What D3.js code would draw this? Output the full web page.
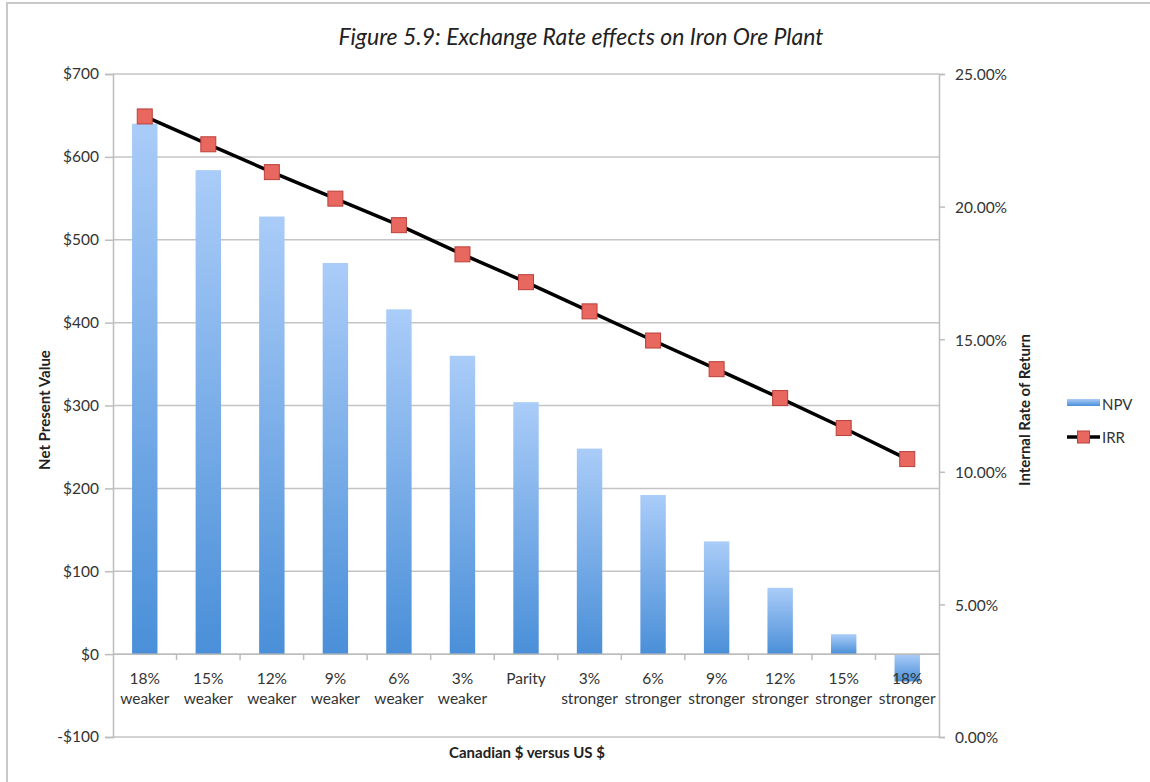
<!DOCTYPE html>
<html>
<head>
<meta charset="utf-8">
<script src="https://cdn.jsdelivr.net/npm/d3@7"></script>
<style>
  body { margin: 0; background: #fff; overflow: hidden; }
  svg { display: block; font-family: Lato, "Open Sans", sans-serif; }
</style>
</head>
<body>
<script>
// chart data
const categories = [
    ["18%", "weaker"], ["15%", "weaker"], ["12%", "weaker"], ["9%", "weaker"],
    ["6%", "weaker"], ["3%", "weaker"], ["Parity", ""], ["3%", "stronger"],
    ["6%", "stronger"], ["9%", "stronger"], ["12%", "stronger"], ["15%", "stronger"],
    ["18%", "stronger"]
];
const npvValues = [640, 584, 528, 472, 416, 360, 304, 248, 192, 136, 80, 24, -33];
const irrValues = [23.4, 22.35, 21.3, 20.3, 19.3, 18.2, 17.15, 16.05, 14.95, 13.87, 12.78, 11.65, 10.48];
const npvTicks = [-100, 0, 100, 200, 300, 400, 500, 600, 700];
const irrTicks = [0, 5, 10, 15, 20, 25];

const width = 1150;
const height = 782;
const margin = { top: 74, right: 211, bottom: 45, left: 113 };
const innerWidth = width - margin.left - margin.right;
const innerHeight = height - margin.top - margin.bottom;

const svg = d3.select("body").append("svg")
    .attr("width", width)
    .attr("height", height);

// outer frame (only top and left edges are visible)
svg.append("path")
    .attr("d", `M7,${height}V3H${width}`)
    .attr("fill", "none")
    .attr("stroke", "#c8c8c8")
    .attr("stroke-width", 2);

const defs = svg.append("defs");
const grad = defs.append("linearGradient")
    .attr("id", "barGrad")
    .attr("x1", 0).attr("y1", 0).attr("x2", 0).attr("y2", 1);
grad.append("stop").attr("offset", "0%").attr("stop-color", "#aaccf8");
grad.append("stop").attr("offset", "100%").attr("stop-color", "#4a8fd8");

const g = svg.append("g")
    .attr("transform", `translate(${margin.left},${margin.top})`);

const idx = categories.map((d, i) => i);
const xScale = d3.scaleBand()
    .domain(idx)
    .range([0, innerWidth])
    .paddingInner(0.6)
    .paddingOuter(0.3);
const bandStep = innerWidth / categories.length;

const yScale = d3.scaleLinear()
    .domain([-100, 700])
    .range([innerHeight, 0]);

const y2Scale = d3.scaleLinear()
    .domain([0, 25])
    .range([innerHeight, 0]);

// gridlines
g.append("g")
    .selectAll("line")
    .data(npvTicks)
    .join("line")
    .attr("x1", 0)
    .attr("x2", innerWidth)
    .attr("y1", d => yScale(d))
    .attr("y2", d => yScale(d))
    .attr("stroke", "#c4c4c4")
    .attr("stroke-width", 1.5);

// left axis
const yAxis = d3.axisLeft(yScale)
    .tickValues(npvTicks)
    .tickSize(8)
    .tickPadding(6)
    .tickFormat(d => d < 0 ? "-$" + (-d) : "$" + d);

const yAxisG = g.append("g").call(yAxis);

// right axis
const y2Axis = d3.axisRight(y2Scale)
    .tickValues(irrTicks)
    .tickSize(6)
    .tickPadding(10)
    .tickFormat(d => d.toFixed(2) + "%");

const y2AxisG = g.append("g")
    .attr("transform", `translate(${innerWidth},0)`)
    .call(y2Axis);

[yAxisG, y2AxisG].forEach(ax => {
    ax.attr("font-family", null).attr("font-size", null);
    ax.select(".domain").attr("stroke", "#bdbdbd").attr("stroke-width", 1.5);
    ax.selectAll(".tick line").attr("stroke", "#bdbdbd").attr("stroke-width", 1.5);
    ax.selectAll(".tick text")
        .attr("fill", "#333")
        .style("font-size", "15.5px");
});
y2AxisG.selectAll(".tick text").attr("dy", "0.9em").attr("y", -8);

// bars
g.append("g")
    .selectAll("rect")
    .data(npvValues)
    .join("rect")
    .attr("x", (d, i) => xScale(i))
    .attr("width", xScale.bandwidth())
    .attr("y", d => yScale(Math.max(0, d)))
    .attr("height", d => Math.abs(yScale(d) - yScale(0)))
    .attr("fill", "url(#barGrad)");

// category axis at zero
const xAxisG = g.append("g")
    .attr("transform", `translate(0,${yScale(0)})`);

xAxisG.append("line")
    .attr("x1", 0).attr("x2", innerWidth)
    .attr("stroke", "#bdbdbd")
    .attr("stroke-width", 1.5);

xAxisG.selectAll(".xtick")
    .data(d3.range(1, categories.length))
    .join("line")
    .attr("class", "xtick")
    .attr("x1", d => d * bandStep)
    .attr("x2", d => d * bandStep)
    .attr("y1", 0)
    .attr("y2", 6)
    .attr("stroke", "#bdbdbd")
    .attr("stroke-width", 1.5);

const labels = xAxisG.selectAll(".xlabel")
    .data(categories)
    .join("text")
    .attr("class", "xlabel")
    .attr("text-anchor", "middle")
    .attr("fill", "#333")
    .style("font-size", "15.5px");

labels.append("tspan")
    .attr("x", (d, i) => xScale(i) + xScale.bandwidth() / 2)
    .attr("y", 30)
    .text(d => d[0]);

labels.append("tspan")
    .attr("x", (d, i) => xScale(i) + xScale.bandwidth() / 2)
    .attr("y", 50)
    .text(d => d[1]);

// IRR line
const lineGenerator = d3.line()
    .x((d, i) => xScale(i) + xScale.bandwidth() / 2)
    .y(d => y2Scale(d));

g.append("path")
    .attr("d", lineGenerator(irrValues))
    .attr("fill", "none")
    .attr("stroke", "#000")
    .attr("stroke-width", 3.5)
    .attr("stroke-linejoin", "round");

g.append("g")
    .selectAll("rect")
    .data(irrValues)
    .join("rect")
    .attr("x", (d, i) => xScale(i) + xScale.bandwidth() / 2 - 7.5)
    .attr("y", d => y2Scale(d) - 7.5)
    .attr("width", 15)
    .attr("height", 15)
    .attr("fill", "#e8675f")
    .attr("stroke", "#b9403a")
    .attr("stroke-width", 1);

// title
svg.append("text")
    .attr("x", 581)
    .attr("y", 45)
    .attr("text-anchor", "middle")
    .attr("fill", "#222")
    .style("font-size", "23px")
    .style("font-style", "italic")
    .text("Figure 5.9: Exchange Rate effects on Iron Ore Plant");

// axis titles
svg.append("text")
    .attr("transform", "translate(50,410) rotate(-90)")
    .attr("text-anchor", "middle")
    .attr("fill", "#222")
    .style("font-size", "15px")
    .style("font-weight", "bold")
    .text("Net Present Value");

svg.append("text")
    .attr("transform", "translate(1030,410) rotate(-90)")
    .attr("text-anchor", "middle")
    .attr("fill", "#222")
    .style("font-size", "15px")
    .style("font-weight", "bold")
    .text("Internal Rate of Return");

svg.append("text")
    .attr("x", 527)
    .attr("y", 758)
    .attr("text-anchor", "middle")
    .attr("fill", "#222")
    .style("font-size", "15px")
    .style("font-weight", "bold")
    .text("Canadian $ versus US $");

// legend
const legend = svg.append("g").attr("transform", "translate(1067,0)");
legend.append("rect")
    .attr("x", 0).attr("y", 399)
    .attr("width", 33).attr("height", 7)
    .attr("fill", "url(#barGrad)");
legend.append("text")
    .attr("x", 35).attr("y", 410)
    .attr("fill", "#333")
    .style("font-size", "15px")
    .text("NPV");
legend.append("line")
    .attr("x1", 0).attr("x2", 33)
    .attr("y1", 437).attr("y2", 437)
    .attr("stroke", "#000")
    .attr("stroke-width", 3.5);
legend.append("rect")
    .attr("x", 16.5 - 6).attr("y", 431)
    .attr("width", 12).attr("height", 12)
    .attr("fill", "#e8675f")
    .attr("stroke", "#b9403a");
legend.append("text")
    .attr("x", 35).attr("y", 443)
    .attr("fill", "#333")
    .style("font-size", "15px")
    .text("IRR");
</script>
</body>
</html>
